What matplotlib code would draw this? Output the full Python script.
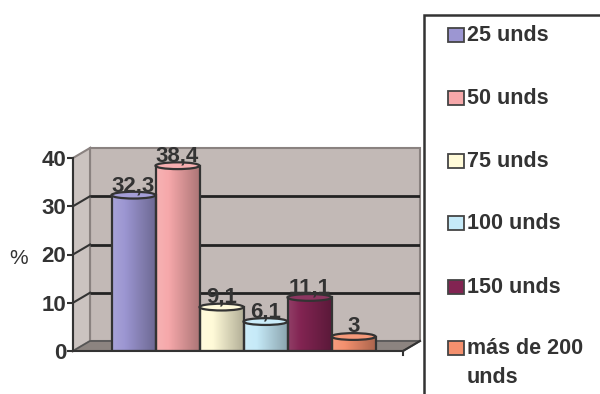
import matplotlib.pyplot as plt
import matplotlib.patches as mpatches
import numpy as np
from matplotlib.colors import to_rgb

plt.rcParams['font.family'] = ['Liberation Sans', 'DejaVu Sans']

# datos
categorias = ['25 unds', '50 unds', '75 unds', '100 unds', '150 unds', 'más de 200\nunds']
valores = [32.3, 38.4, 9.1, 6.1, 11.1, 3]
etiquetas = ['32,3', '38,4', '9,1', '6,1', '11,1', '3']
colores = ['#9C96D2', '#F6A8AA', '#FFFAD8', '#C6EAF8', '#822452', '#F4906E']
ticks_y = [0, 10, 20, 30, 40]

W, H = 600, 394
gris_txt = '#333333'
borde = '#333333'

fig = plt.figure(figsize=(W / 100, H / 100), dpi=100)

# ejes: 0 en y=351px, 40 en y=158px ; barra = 44px
ppu_y = (351 - 158) / 40.0
ppu_x = 44.0
x0 = (73 - 133.5) / ppu_x
x1 = (403 - 133.5) / ppu_x
dx = 17 / ppu_x
dy = 10 / ppu_y
top_px = 351 - 44 * ppu_y
ax = fig.add_axes([73 / W, (H - 351) / H, (420 - 73) / W, (351 - top_px) / H])
ax.set_xlim(x0, x1 + dx)
ax.set_ylim(0, 44)

# pared del fondo, pared lateral y piso
pared = '#C2B9B6'
ax.add_patch(mpatches.Polygon([(x0 + dx, dy), (x1 + dx, dy), (x1 + dx, 40 + dy), (x0 + dx, 40 + dy)],
                              closed=True, fc=pared, ec='#8a8280', lw=1.5, zorder=0, clip_on=False))
ax.add_patch(mpatches.Polygon([(x0, 0), (x0 + dx, dy), (x0 + dx, 40 + dy), (x0, 40)],
                              closed=True, fc='#CBC3C0', ec='#8a8280', lw=1.5, zorder=0, clip_on=False))
ax.add_patch(mpatches.Polygon([(x0, 0), (x1, 0), (x1 + dx, dy), (x0 + dx, dy)],
                              closed=True, fc='#8C8480', ec='#555555', lw=1.2, zorder=1, clip_on=False))
for t in ticks_y[1:4]:
    ax.plot([x0 + dx, x1 + dx], [t + dy, t + dy], color='#222222', lw=2, zorder=1.5, solid_capstyle='butt')
    ax.plot([x0, x0 + dx], [t, t + dy], color='#333333', lw=1.5, zorder=1.5, clip_on=False)
ax.plot([x1, x1 + dx], [0, dy], color='#333333', lw=1.5, zorder=1.5, clip_on=False)
ax.plot([x1, x1], [0, -0.8], color='#333333', lw=1.5, zorder=1.5, clip_on=False)


def mezcla(c, k):
    c = np.array(to_rgb(c))
    if k >= 0:
        return c + (1 - c) * k
    return c * (1 + k)


# barras tipo cilindro
lid_h = 1.4
for i, (v, c) in enumerate(zip(valores, colores)):
    xs = np.linspace(0, 1, 60)
    grad = np.array([mezcla(c, 0.12 - 0.42 * s) for s in xs])[None, :, :]
    clip = mpatches.Rectangle((i - 0.5, 0), 1, v, transform=ax.transData)
    im = ax.imshow(grad, extent=(i - 0.5, i + 0.5, 0, v), aspect='auto', zorder=3, interpolation='bilinear')
    im.set_clip_path(clip)
    ax.add_patch(mpatches.Rectangle((i - 0.5, 0), 1, v, fc='none', ec=borde, lw=1.6, zorder=3.5))
    ax.add_patch(mpatches.Ellipse((i, v), 1, lid_h, fc=mezcla(c, 0.08), ec=borde, lw=1.6, zorder=4))
    ax.text(i, v + 2.0, etiquetas[i], ha='center', va='center', fontsize=16, fontweight='bold',
            color=gris_txt, zorder=6)

ax.set_xlim(x0, x1 + dx)
ax.set_ylim(0, 44)

# ejes
for s in ['top', 'right']:
    ax.spines[s].set_visible(False)
ax.spines['left'].set_bounds(0, 40)
ax.spines['bottom'].set_bounds(x0, x1)
ax.spines['left'].set_color('#333333')
ax.spines['bottom'].set_color('#333333')
ax.spines['left'].set_linewidth(1.5)
ax.spines['bottom'].set_linewidth(1.5)
ax.spines['left'].set_zorder(5)
ax.spines['bottom'].set_zorder(5)
ax.set_yticks(ticks_y)
ax.set_xticks([])
ax.tick_params(axis='y', length=4, width=1.5, color='#333333', labelsize=16, labelcolor=gris_txt, pad=1)
for lb in ax.get_yticklabels():
    lb.set_fontweight('bold')
ax.patch.set_visible(False)

fig.text(19 / W, 1 - 258 / H, '%', fontsize=15, color=gris_txt, ha='center', va='center')

# leyenda
fig.patches.append(mpatches.Rectangle((424 / W, -0.05), 1, 1.05 - 15 / H, transform=fig.transFigure,
                                      fc='white', ec='#333333', lw=1.8))
filas = [35, 98, 161, 223, 287, 348]
for nombre, c, yy in zip(categorias, colores, filas):
    fig.patches.append(mpatches.Rectangle((448 / W, 1 - (yy + 7) / H), 16 / W, 14 / H,
                                          transform=fig.transFigure, fc=c, ec='#444444', lw=1.3))
    fig.text(467 / W, 1 - (yy - 10) / H, nombre, fontsize=15.5, fontweight='bold', color=gris_txt,
             ha='left', va='top', linespacing=1.5)

fig.savefig('out.png', dpi=100)
